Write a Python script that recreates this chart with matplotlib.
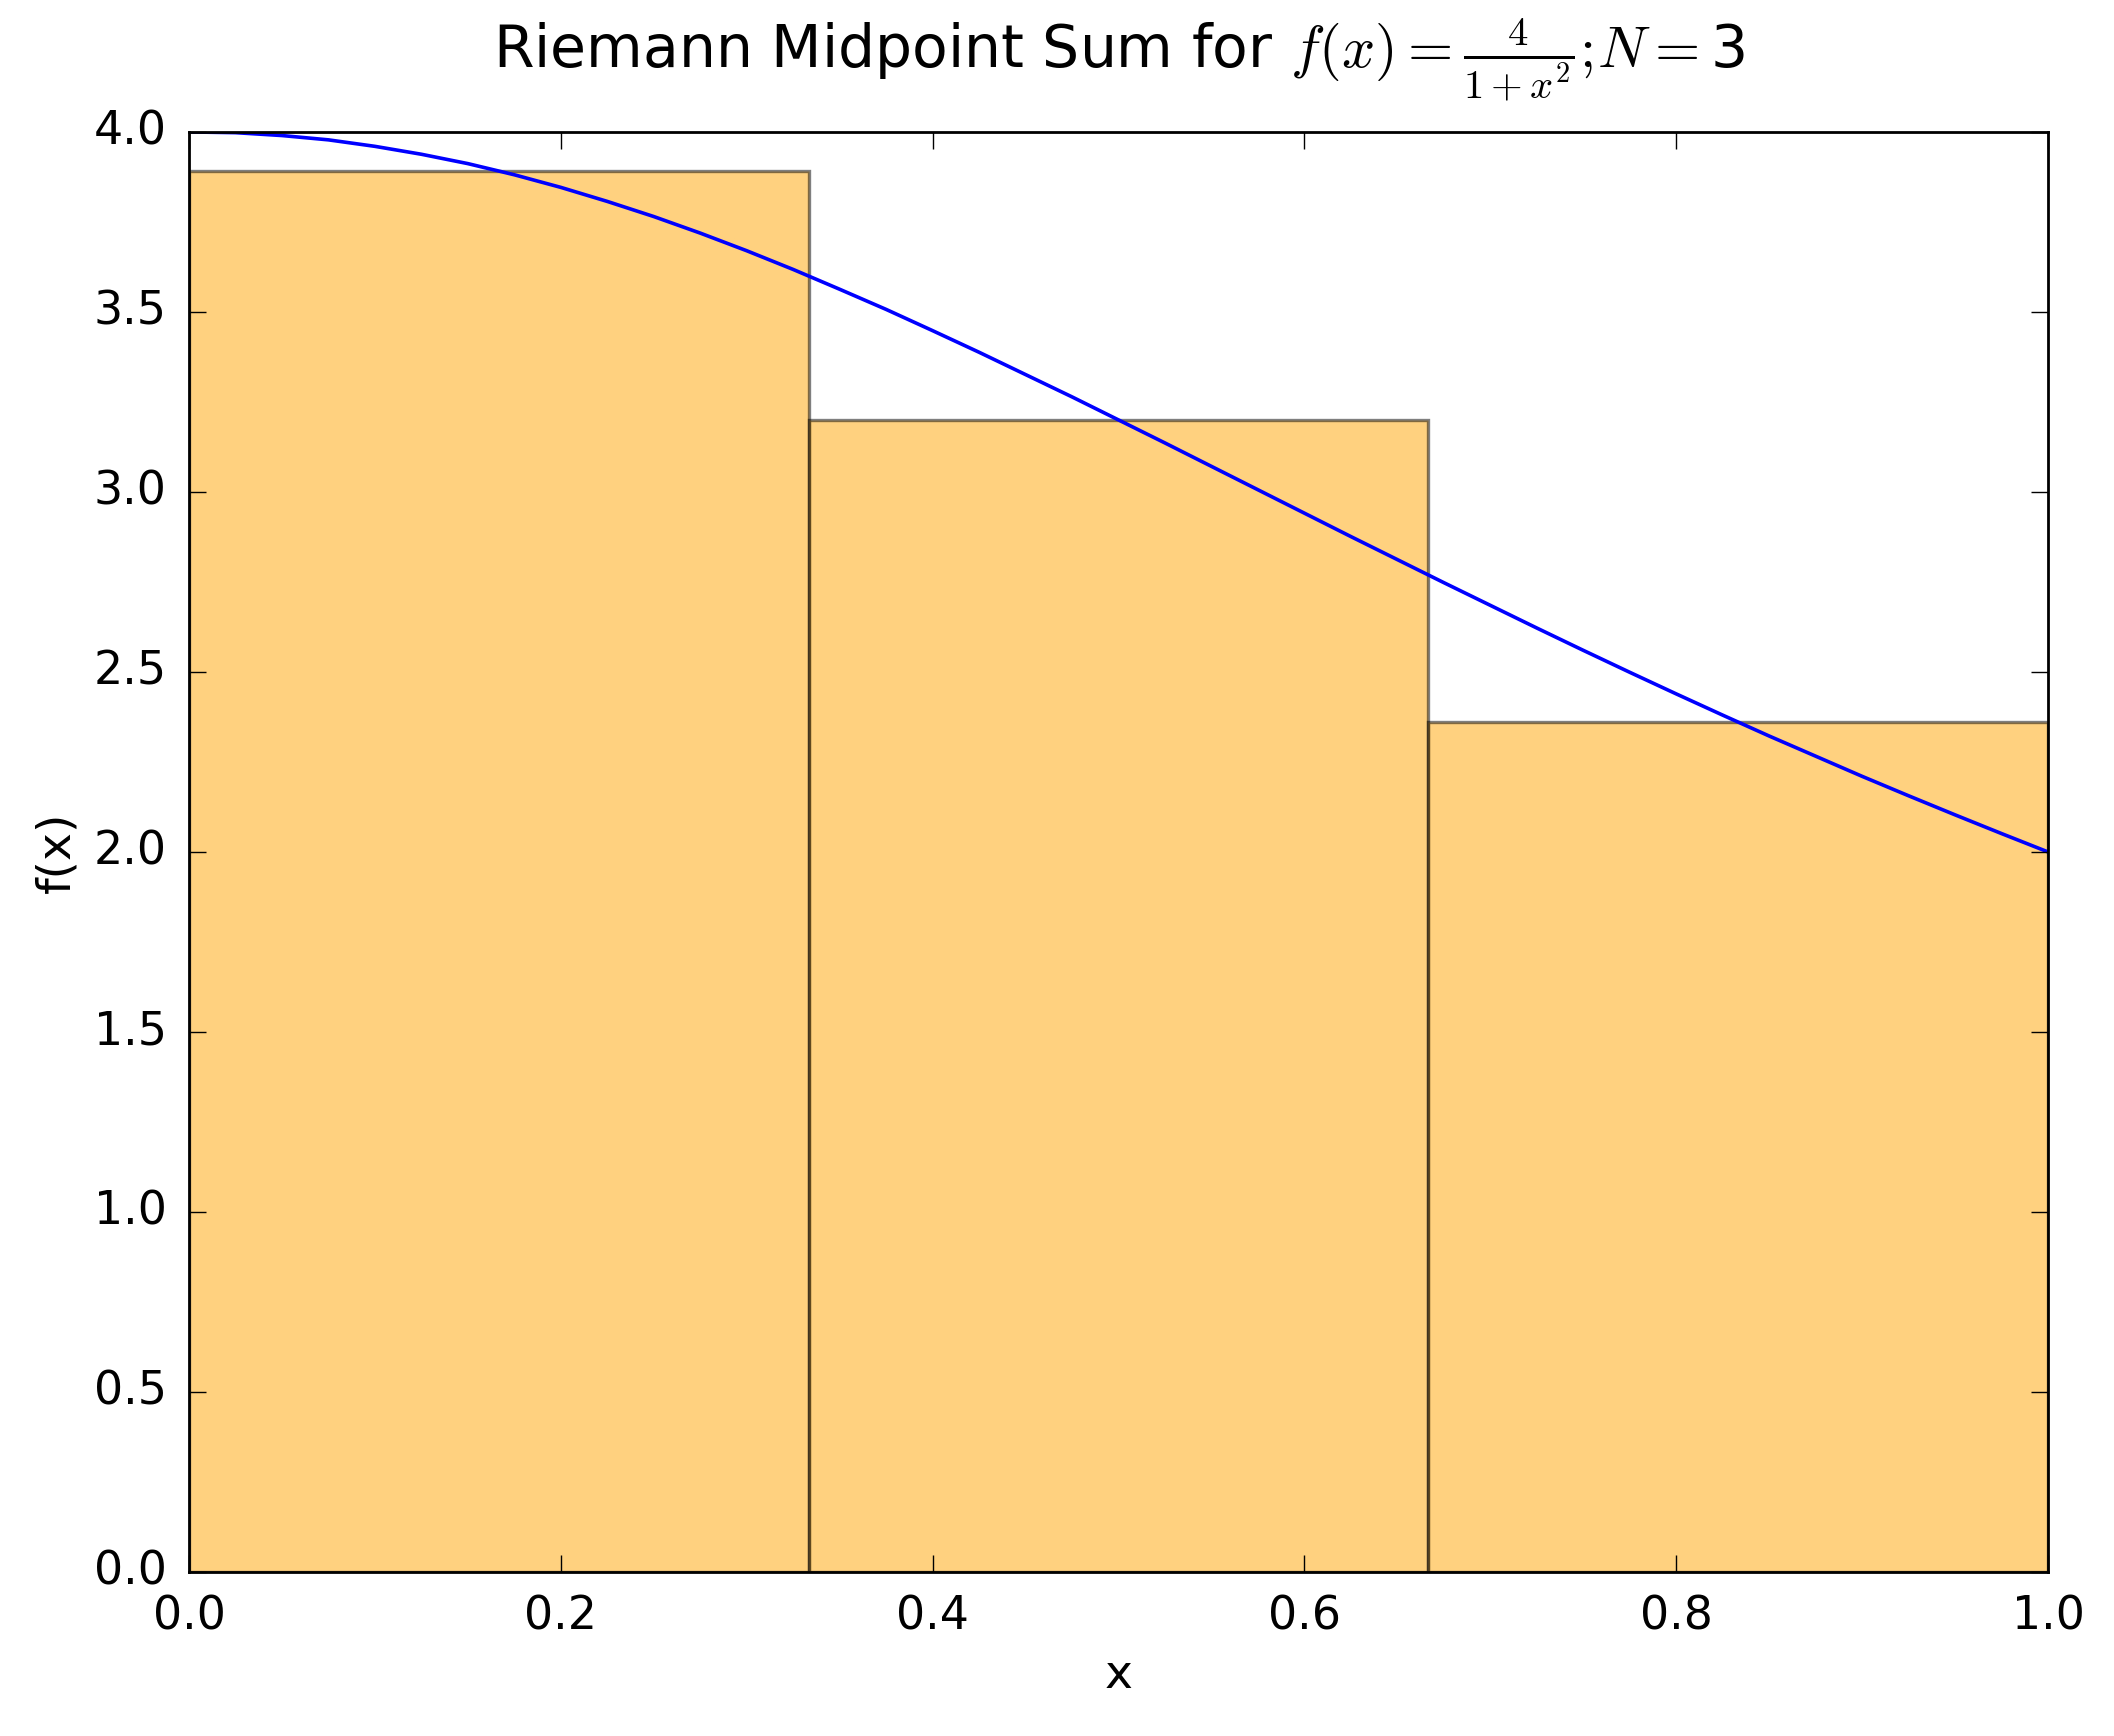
import numpy as np
import matplotlib
matplotlib.use("Agg")
import matplotlib.pyplot as plt

plt.style.use("classic")
plt.rcParams["mathtext.fontset"] = "cm"

# bar left edges and midpoint heights (N = 3)
bar_left = [0.0, 1/3, 2/3]
bar_height = [3.892, 3.200, 2.361]
bar_width = 1/3

# curve
curve_x = [0.0, 0.025, 0.05, 0.075, 0.1, 0.125, 0.15, 0.175, 0.2, 0.225,
           0.25, 0.275, 0.3, 0.325, 0.35, 0.375, 0.4, 0.425, 0.45, 0.475,
           0.5, 0.525, 0.55, 0.575, 0.6, 0.625, 0.65, 0.675, 0.7, 0.725,
           0.75, 0.775, 0.8, 0.825, 0.85, 0.875, 0.9, 0.925, 0.95, 0.975, 1.0]
curve_y = [4.000, 3.998, 3.990, 3.978, 3.960, 3.938, 3.912, 3.881, 3.846, 3.807,
           3.765, 3.719, 3.670, 3.618, 3.563, 3.507, 3.448, 3.388, 3.326, 3.264,
           3.200, 3.136, 3.071, 3.006, 2.941, 2.876, 2.812, 2.748, 2.685, 2.622,
           2.560, 2.499, 2.439, 2.380, 2.322, 2.266, 2.210, 2.156, 2.103, 2.051, 2.000]

fig = plt.figure(figsize=(10.57, 8.68), dpi=200, facecolor="white")
ax = fig.add_axes([0.0894, 0.0945, 0.8794, 0.8295])

ax.bar(bar_left, bar_height, width=bar_width, align="edge",
       color="orange", edgecolor="black", alpha=0.5, linewidth=1.2)
ax.plot(curve_x, curve_y, color="b", linewidth=1.3)

ax.set_xlim(0, 1)
ax.set_ylim(0, 4)
ax.set_xticks([0.0, 0.2, 0.4, 0.6, 0.8, 1.0])
ax.set_yticks([0.0, 0.5, 1.0, 1.5, 2.0, 2.5, 3.0, 3.5, 4.0])
ax.tick_params(labelsize=16.5, length=6, pad=8)
ax.set_xlabel("x", fontsize=17)
ax.set_ylabel("f(x)", fontsize=17)
ax.set_title(r"Riemann Midpoint Sum for $f(x)=\frac{4}{1+x^2};\!N=$3", fontsize=21, y=1.035)

fig.savefig("out.png", dpi=200, facecolor="white")
